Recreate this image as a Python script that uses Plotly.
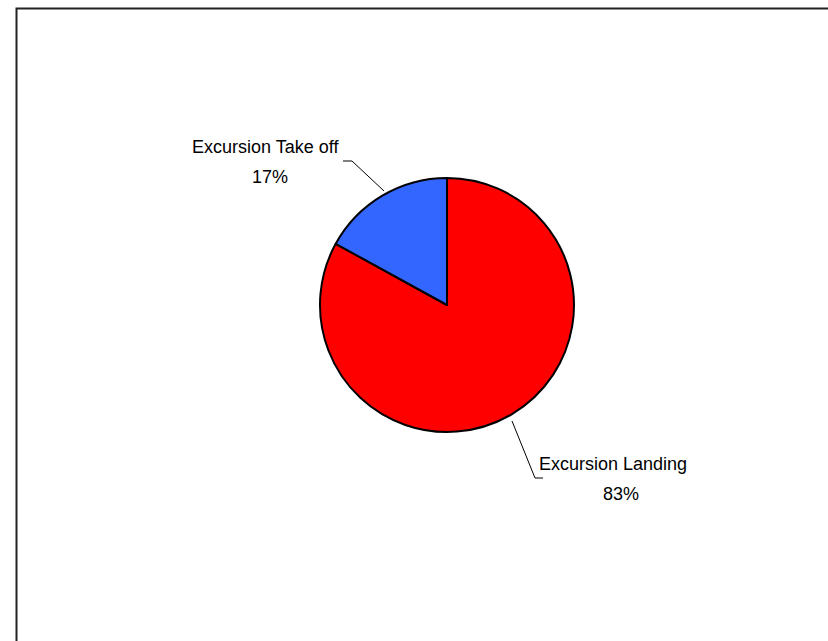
import plotly.graph_objects as go

categories = ["Excursion Landing", "Excursion Take off"]
values = [83, 17]
colors = ["#FF0000", "#3366FF"]

W, H = 828, 641

def px(x):
    return x / W

def py(y):
    return 1 - y / H

total = sum(values)
pcts = [round(v * 100 / total) for v in values]

cx, cy, r = 447, 305, 127

fig = go.Figure()
fig.add_trace(go.Pie(
    labels=categories,
    values=values,
    sort=False,
    direction="clockwise",
    rotation=0,
    marker=dict(colors=colors, line=dict(color="black", width=2)),
    textinfo="none",
    hoverinfo="label+percent",
    showlegend=False,
    domain=dict(x=[px(cx - r), px(cx + r)], y=[py(cy + r), py(cy - r)]),
))

label_font = dict(family="Liberation Sans, Arial, sans-serif", size=18, color="black")
# (x center of name, y of name line, x center of pct, y of pct line)
label_pos = [(613, 464, 621, 494), (265, 147, 270, 177)]
for cat, pct, (nx, ny, qx, qy) in zip(categories, pcts, label_pos):
    fig.add_annotation(
        x=px(nx), y=py(ny), xref="paper", yref="paper",
        text=cat, showarrow=False, font=label_font,
        xanchor="center", yanchor="middle",
    )
    fig.add_annotation(
        x=px(qx), y=py(qy), xref="paper", yref="paper",
        text=f"{pct}%", showarrow=False, font=label_font,
        xanchor="center", yanchor="middle",
    )

# leader lines
leaders = [
    [(512, 421), (535, 478), (543, 478)],
    [(384, 191), (352, 161), (343, 161)],
]
for pts in leaders:
    path = "M " + " L ".join(f"{px(x)},{py(y)}" for x, y in pts)
    fig.add_shape(type="path", path=path, xref="paper", yref="paper",
                  line=dict(color="black", width=1))

# outer frame
fig.add_shape(type="rect", xref="paper", yref="paper",
              x0=px(16.5), y0=-0.1, x1=1.1, y1=py(8.5),
              line=dict(color="#222222", width=2), fillcolor="rgba(0,0,0,0)")

fig.update_layout(
    width=W, height=H,
    margin=dict(l=0, r=0, t=0, b=0),
    paper_bgcolor="white",
    plot_bgcolor="white",
)

fig.write_html("out.html")
